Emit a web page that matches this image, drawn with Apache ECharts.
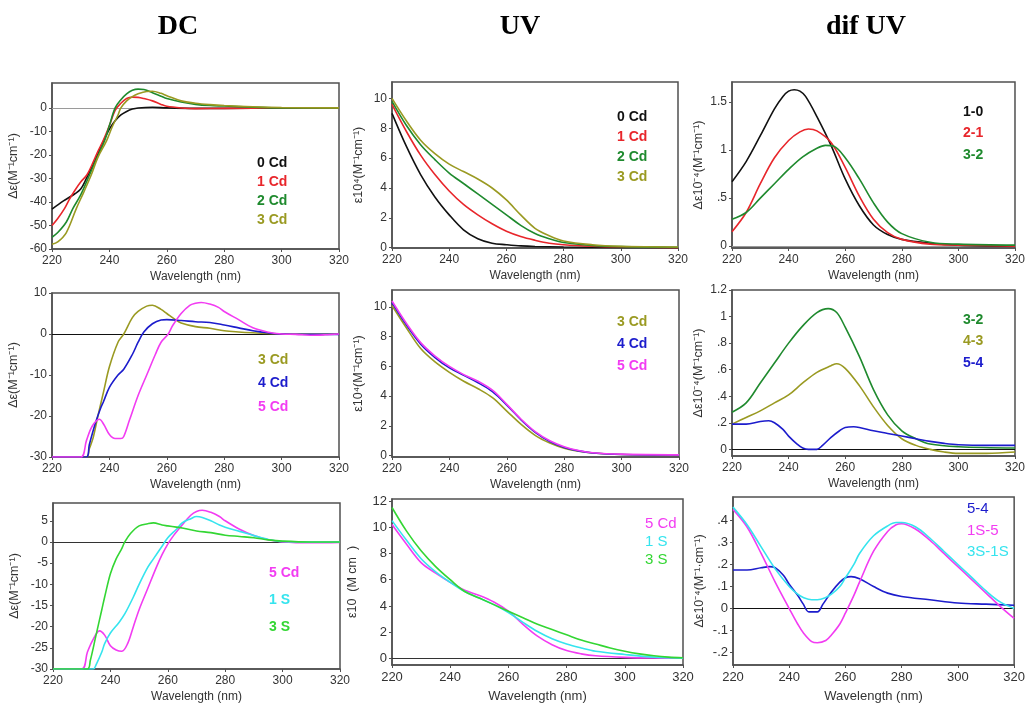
<!DOCTYPE html>
<html><head><meta charset="utf-8">
<script src="https://cdn.jsdelivr.net/npm/echarts@6/dist/echarts.min.js"></script>
<style>html,body{margin:0;padding:0;background:#fff}#c{width:1028px;height:704px}</style>
</head><body><div id="c"></div>
<script>
// ---------- tick labels ----------
const xTicks = [220, 240, 260, 280, 300, 320];
const yTicksDC1 = [-60, -50, -40, -30, -20, -10, 0];
const yTicksDC2 = [-30, -20, -10, 0, 10];
const yTicksDC3 = [-30, -25, -20, -15, -10, -5, 0, 5];
const yTicksUV12 = [0, 2, 4, 6, 8, 10];
const yTicksUV3 = [0, 2, 4, 6, 8, 10, 12];
const yTicksDif1 = [0, 0.5, 1, 1.5];
const yTicksDif2 = [0, 0.2, 0.4, 0.6, 0.8, 1, 1.2];
const yTicksDif3 = [-0.2, -0.1, 0, 0.1, 0.2, 0.3, 0.4];

// ---------- column titles ----------
const titles = ['DC', 'UV', 'dif UV'];

// ---------- row 1 : DC ----------
const dc1_0Cd = [[220,-43],[224,-39.5],[228,-36.5],[230,-34.5],[232,-30],[234,-25],[236,-19.5],[237,-16.5],[238,-14],[240,-9],[242,-5.5],[244,-3],[246,-1.5],[248,-0.5],[250,0],[255,0.3],[260,0],[270,-0.2],[280,-0.2],[300,-0.1],[320,0]];
const dc1_1Cd = [[220,-50],[222,-47],[224.4,-42.7],[226,-39],[228,-35],[230,-31.5],[232.2,-28.4],[234,-24],[236,-18.5],[237.8,-14],[240,-7.5],[242,-1],[244,2],[246,4],[248,4.6],[250,4.5],[252,4],[255,3],[258,1.5],[260,0.7],[265,0],[270,-0.3],[280,-0.2],[300,0],[320,0]];
const dc1_2Cd = [[220,-55],[222,-53],[225,-48.5],[227.3,-42.7],[230,-37],[233.1,-28.4],[235,-23],[238.3,-14],[240,-7.5],[242,0],[244,3.5],[246,6],[248,7.5],[250,8],[252,7.8],[255,6.5],[258,5],[260,4],[265,2.5],[270,1.5],[275,1],[280,0.8],[290,0.3],[300,0],[320,0]];
const dc1_3Cd = [[220,-58],[222,-57],[225,-53],[228.5,-42.7],[231,-36],[233.7,-28.4],[236,-21],[239,-14],[241,-8],[243,-3],[244,0],[246,3],[248,4.8],[250,6],[253,7],[255,7.1],[258,6.2],[260,5.2],[265,3],[270,2],[275,1.4],[280,1],[290,0.5],[300,0.2],[320,0]];

// ---------- row 1 : UV ----------
const uv1_0Cd = [[220,9],[225,6.8],[230,4.9],[235,3.4],[240,2.2],[245,1.2],[250,0.6],[255,0.3],[260,0.2],[265,0.12],[270,0.08],[280,0.05],[300,0.02],[320,0]];
const uv1_1Cd = [[220,9.6],[225,7.8],[230,6.2],[235,4.9],[240,3.8],[245,2.9],[250,2.2],[255,1.6],[260,1.1],[265,0.75],[270,0.5],[275,0.3],[280,0.2],[290,0.1],[300,0.05],[320,0]];
const uv1_2Cd = [[220,9.8],[225,8.2],[230,6.9],[235,5.9],[240,5.0],[245,4.3],[250,3.6],[255,2.9],[260,2.2],[265,1.5],[270,0.95],[275,0.6],[280,0.35],[290,0.15],[300,0.07],[320,0.03]];
const uv1_3Cd = [[220,10],[225,8.5],[230,7.2],[235,6.3],[240,5.6],[245,5.1],[250,4.6],[255,4.0],[260,3.2],[265,2.2],[270,1.3],[275,0.8],[280,0.45],[290,0.2],[300,0.1],[320,0.05]];

// ---------- row 1 : dif UV ----------
const dif1_10 = [[220,0.67],[225,0.88],[230,1.15],[235,1.43],[238,1.56],[240,1.615],[242,1.63],[244,1.615],[246,1.56],[250,1.35],[255,1.05],[260,0.7],[265,0.42],[270,0.22],[275,0.12],[280,0.07],[290,0.03],[300,0.01],[320,0]];
const dif1_21 = [[220,0.15],[225,0.35],[230,0.65],[235,0.92],[240,1.1],[244,1.19],[247,1.22],[250,1.2],[255,1.08],[260,0.82],[265,0.52],[270,0.28],[275,0.14],[280,0.07],[290,0.02],[300,0.01],[320,0]];
const dif1_32 = [[220,0.28],[225,0.35],[230,0.5],[235,0.65],[240,0.8],[245,0.93],[250,1.02],[253,1.05],[256,1.04],[260,0.92],[265,0.7],[270,0.45],[275,0.25],[280,0.13],[290,0.04],[300,0.02],[320,0.01]];

// ---------- row 2 : DC ----------
const dc2_3Cd = [[220,-30],[232,-30],[233,-28],[234.3,-25.4],[236,-20],[238,-14],[240,-8],[243,-2],[245,0],[248,4],[250,5.5],[253,6.8],[255,7],[258,6],[260,5],[263,3.5],[265,2.7],[270,1.8],[275,1.4],[280,0.8],[285,0.5],[290,0.3],[300,0],[320,0]];
const dc2_4Cd = [[220,-30],[232,-30],[233,-27],[235,-22],[237,-18],[238,-16.4],[240,-13],[243,-10],[245,-8.6],[248,-5],[250,-2],[252,0.5],[255,2.5],[258,3.4],[260,3.5],[265,3.3],[270,3.0],[275,2.8],[280,2.2],[285,1.5],[290,0.8],[295,0.3],[300,0],[320,-0.1]];
const dc2_5Cd = [[220,-30],[230,-30],[232,-26],[234,-22.5],[236.5,-20.8],[238,-22],[240,-24.5],[242,-25.5],[244,-25.5],[245,-25],[247,-21],[250,-15],[253,-10],[256,-5],[258,-2],[260.5,0],[262,2],[265,5],[268,7],[270,7.5],[272,7.7],[275,7.3],[278,6.5],[280,5.5],[285,3.5],[290,1.5],[295,0.5],[300,0],[305,-0.1],[310,-0.3],[315,-0.2],[320,0]];

// ---------- row 2 : UV ----------
const uv2_3Cd = [[220,10.1],[225,8.6],[230,7.2],[235,6.3],[240,5.6],[245,5.0],[250,4.5],[255,3.9],[260,3.0],[265,2.1],[270,1.35],[275,0.85],[280,0.5],[285,0.3],[290,0.18],[300,0.08],[320,0.05]];
const uv2_4Cd = [[220,10.3],[225,8.8],[230,7.5],[235,6.6],[240,5.9],[245,5.4],[250,4.9],[255,4.3],[260,3.4],[265,2.4],[270,1.55],[275,0.95],[280,0.55],[285,0.32],[290,0.18],[300,0.08],[320,0.05]];
const uv2_5Cd = [[220,10.4],[225,8.9],[230,7.6],[235,6.7],[240,6.0],[245,5.45],[250,5.0],[255,4.4],[260,3.45],[265,2.45],[270,1.6],[275,1.0],[280,0.6],[285,0.35],[290,0.2],[300,0.1],[320,0.05]];

// ---------- row 2 : dif UV ----------
const dif2_32 = [[220,0.28],[225,0.35],[230,0.5],[235,0.65],[240,0.8],[245,0.93],[250,1.03],[254,1.06],[257,1.03],[260,0.92],[265,0.7],[270,0.45],[275,0.26],[280,0.14],[285,0.08],[290,0.04],[300,0.02],[320,0.01]];
const dif2_43 = [[220,0.19],[225,0.24],[230,0.29],[235,0.35],[240,0.41],[245,0.5],[250,0.58],[255,0.63],[257,0.645],[260,0.61],[265,0.48],[270,0.32],[275,0.18],[280,0.08],[285,0.03],[290,0],[295,-0.02],[300,-0.03],[310,-0.03],[320,-0.02]];
const dif2_54 = [[220,0.19],[225,0.19],[230,0.21],[233,0.215],[235,0.2],[238,0.15],[240,0.1],[243,0.04],[245,0.01],[247,0],[250,0],[252,0.03],[255,0.09],[258,0.14],[260,0.165],[263,0.17],[265,0.165],[270,0.14],[275,0.12],[280,0.1],[285,0.08],[290,0.06],[295,0.045],[300,0.035],[310,0.03],[320,0.03]];

// ---------- row 3 : DC ----------
const dc3_5Cd = [[220,-30],[230,-30],[232,-26],[234,-23],[236.2,-21],[238,-22],[240,-24.5],[242,-25.5],[244,-25.8],[246,-24],[248,-20],[250,-16],[253,-11],[256,-6],[258,-3],[260,-0.5],[262,1.5],[265,4],[268,6.3],[270,7.2],[272,7.5],[275,7],[278,6],[280,5],[285,3],[290,1.5],[295,0.5],[300,0],[310,-0.2],[320,-0.1]];
const dc3_1S = [[220,-30],[234,-30],[235,-29],[237,-26],[238,-24],[240,-21.5],[243,-19],[245,-17],[248,-13],[250,-10],[253,-6],[255,-4],[258,-1],[260,1],[263,3],[265,4.5],[268,5.5],[270,6],[272,5.8],[275,5],[278,4],[280,3.5],[285,2.5],[290,1.5],[295,0.6],[300,0.1],[310,0],[320,0]];
const dc3_3S = [[220,-30],[232,-30],[233,-28],[235,-22],[237,-16],[238,-13],[240,-7.5],[242,-4],[244,-1.5],[245,0],[247,2],[250,3.8],[253,4.3],[255,4.5],[258,4],[260,3.8],[263,3.5],[265,3.3],[270,2.6],[275,2.2],[280,1.6],[285,1.3],[290,1.0],[295,0.5],[300,0.2],[310,0],[320,0]];

// ---------- row 3 : UV ----------
const uv3_5Cd = [[220,10.2],[225,8.7],[230,7.3],[235,6.5],[240,5.8],[245,5.2],[250,4.8],[255,4.3],[260,3.6],[265,2.6],[270,1.7],[275,1.05],[280,0.6],[285,0.35],[290,0.2],[300,0.08],[310,0.03],[320,0.02]];
const uv3_1S = [[220,10.5],[225,9.0],[230,7.6],[235,6.6],[240,5.8],[245,5.1],[250,4.6],[255,4.1],[260,3.5],[265,2.75],[270,2.05],[275,1.5],[280,1.1],[285,0.8],[290,0.55],[300,0.3],[310,0.1],[320,0.02]];
const uv3_3S = [[220,11.5],[225,9.7],[230,8.2],[235,7.0],[240,6.0],[245,5.1],[250,4.6],[255,4.1],[260,3.6],[265,3.1],[270,2.6],[275,2.2],[280,1.8],[285,1.4],[290,1.1],[295,0.8],[300,0.55],[305,0.35],[310,0.2],[315,0.1],[320,0.05]];

// ---------- row 3 : dif UV ----------
const dif3_54 = [[220,0.175],[225,0.175],[230,0.185],[233,0.19],[235,0.185],[238,0.15],[240,0.11],[243,0.06],[245,0.02],[247,-0.015],[250,-0.015],[252,0.02],[255,0.075],[258,0.12],[260,0.14],[262,0.145],[265,0.135],[270,0.1],[275,0.07],[280,0.055],[290,0.04],[300,0.025],[310,0.02],[320,0.015]];
const dif3_1S5 = [[220,0.45],[225,0.37],[230,0.25],[235,0.12],[240,0],[243,-0.07],[245,-0.11],[248,-0.15],[250,-0.155],[253,-0.145],[255,-0.12],[258,-0.07],[260,-0.02],[263,0.06],[265,0.12],[270,0.26],[275,0.35],[278,0.38],[280,0.385],[285,0.36],[290,0.31],[295,0.25],[300,0.19],[305,0.13],[310,0.07],[315,0.01],[320,-0.045]];
const dif3_3S1S = [[220,0.46],[225,0.38],[230,0.28],[235,0.18],[240,0.1],[243,0.065],[245,0.05],[248,0.04],[250,0.04],[253,0.05],[255,0.065],[258,0.1],[260,0.14],[263,0.2],[265,0.25],[270,0.33],[275,0.375],[278,0.39],[280,0.39],[285,0.37],[290,0.32],[295,0.26],[300,0.2],[305,0.14],[310,0.08],[315,0.03],[320,0]];

// ---------- styles / layout ----------
const COL = {black:'#111111', red:'#e8262b', green:'#1f8a2e', olive:'#9a9a22', blue:'#1c1ccc', magenta:'#f23cf2', cyan:'#35e4ee', lime:'#33d633'};
const FONT = '"Liberation Sans", Arial, sans-serif';
const nm = 'Wavelength (nm)';

const panels = [
  {g:[52,83,287,166], y:[-60,10.6], t:yTicksDC1, yn:'Δε(M⁻¹cm⁻¹)', gap:32, ynf:12.5, zero:'#9a9a9a', fmt:'int',
   s:[['0 Cd',dc1_0Cd,COL.black],['1 Cd',dc1_1Cd,COL.red],['2 Cd',dc1_2Cd,COL.green],['3 Cd',dc1_3Cd,COL.olive]], L:[257,163,19], bold:true},
  {g:[392,82,286,166], y:[-0.02,11.1], t:yTicksUV12, yn:'ε10⁴(M⁻¹cm⁻¹)', gap:27, ynf:12.5, zero:null, fmt:'int',
   s:[['0 Cd',uv1_0Cd,COL.black],['1 Cd',uv1_1Cd,COL.red],['2 Cd',uv1_2Cd,COL.green],['3 Cd',uv1_3Cd,COL.olive]], L:[617,117,20], bold:true},
  {g:[732,82,287,166], y:[-0.02,1.71], t:yTicksDif1, yn:'Δε10⁻⁴(M⁻¹cm⁻¹)', gap:27, ynf:12.5, zero:'#9a9a9a', fmt:'dec',
   s:[['1-0',dif1_10,COL.black],['2-1',dif1_21,COL.red],['3-2',dif1_32,COL.green]], L:[963,112,21.5], bold:true},
  {g:[52,293,287,164], y:[-30,10], t:yTicksDC2, yn:'Δε(M⁻¹cm⁻¹)', gap:32, ynf:12.5, zero:'#111', fmt:'int',
   s:[['3 Cd',dc2_3Cd,COL.olive],['4 Cd',dc2_4Cd,COL.blue],['5 Cd',dc2_5Cd,COL.magenta]], L:[258,360,23.5], bold:true},
  {g:[392,290,287,167], y:[-0.09,11.14], t:yTicksUV12, yn:'ε10⁴(M⁻¹cm⁻¹)', gap:27, ynf:12.5, zero:null, fmt:'int',
   s:[['3 Cd',uv2_3Cd,COL.olive],['4 Cd',uv2_4Cd,COL.blue],['5 Cd',uv2_5Cd,COL.magenta]], L:[617,322,22], bold:true},
  {g:[732,290,287,166], y:[-0.05,1.2], t:yTicksDif2, yn:'Δε10⁻⁴(M⁻¹cm⁻¹)', gap:27, ynf:12.5, zero:'#111', fmt:'dec',
   s:[['3-2',dif2_32,COL.green],['4-3',dif2_43,COL.olive],['5-4',dif2_54,COL.blue]], L:[963,320,21.5], bold:true},
  {g:[53,503,287,166], y:[-30,9.2], t:yTicksDC3, yn:'Δε(M⁻¹cm⁻¹)', gap:32, ynf:12.5, zero:'#333', fmt:'int',
   s:[['5 Cd',dc3_5Cd,COL.magenta],['1 S',dc3_1S,COL.cyan],['3 S',dc3_3S,COL.lime]], L:[269,573,27], bold:true},
  {g:[392,499,291,167], y:[-0.5,12.15], t:yTicksUV3, yn:'ε10  (M cm  )', gap:33, ynf:12.5, zero:'#333', fmt:'int',
   s:[['5 Cd',uv3_5Cd,COL.magenta],['1 S',uv3_1S,COL.cyan],['3 S',uv3_3S,COL.lime]], L:[645,524,18], bold:false},
  {g:[733,497,286,170], y:[-0.256,0.506], t:yTicksDif3, yn:'Δε10⁻⁴(M⁻¹·cm⁻¹)', gap:27, ynf:12.5, zero:'#111', fmt:'dec',
   s:[['5-4',dif3_54,COL.blue],['1S-5',dif3_1S5,COL.magenta],['3S-1S',dif3_3S1S,COL.cyan]], L:[967,509,21.5], bold:false}
];

const decFmt = v => { const s = String(Math.round(v*10)/10); return s.replace(/^(-?)0\./, '$1.'); };

const grid = [], xAxis = [], yAxis = [], series = [], graphic = [];
const titleX = [178, 520, 866];
titles.forEach((t, i) => graphic.push({type:'text', x:titleX[i], y:27,
  style:{text:t, fill:'#000', font:'bold 28px "Liberation Serif", "Times New Roman", serif', textAlign:'center', textVerticalAlign:'middle'}}));

panels.forEach((p, i) => {
  const crisp = i >= 7;
  grid.push({left:p.g[0], top:p.g[1], width:p.g[2], height:p.g[3], show:true, borderColor:'#505050', borderWidth:1.5, backgroundColor:'#fff'});
  const lab = {color:'#333', fontSize: crisp ? 13 : 12, fontFamily:FONT};
  xAxis.push({gridIndex:i, type:'value', min:220, max:320,
    axisLine:{show:true, onZero:false, lineStyle:{color:'#505050', width:1.5}},
    axisTick:{show:true, customValues:xTicks, length:3, lineStyle:{color:'#505050'}},
    axisLabel:Object.assign({customValues:xTicks, margin:6}, lab),
    splitLine:{show:false},
    name:nm, nameLocation:'middle', nameGap:crisp ? 25 : 22,
    nameTextStyle:{color:'#333', fontSize: crisp ? 13 : 12, fontFamily:FONT}});
  yAxis.push({gridIndex:i, type:'value', min:p.y[0], max:p.y[1],
    axisLine:{show:true, onZero:false, lineStyle:{color:'#505050', width:1.5}},
    axisTick:{show:true, customValues:p.t, length:3, lineStyle:{color:'#505050'}},
    axisLabel:Object.assign({customValues:p.t, margin:5, formatter: p.fmt === 'dec' ? decFmt : (v => String(v))}, lab),
    splitLine:{show:false},
    name:p.yn, nameLocation:'middle', nameGap:p.gap, nameRotate:90,
    nameTextStyle:{color:'#333', fontSize:p.ynf, fontFamily:FONT}});
  p.s.forEach((s, k) => {
    const ser = {type:'line', name:s[0], xAxisIndex:i, yAxisIndex:i, data:s[1], showSymbol:false,
      smooth:0.35, lineStyle:{color:s[2], width:1.6}, itemStyle:{color:s[2]}, z:3, clip:true};
    if (k === 0 && p.zero) {
      ser.markLine = {silent:true, symbol:'none', animation:false, label:{show:false},
        lineStyle:{color:p.zero, width:1.2, type:'solid'}, data:[{yAxis:0}], z:2};
    }
    series.push(ser);
    graphic.push({type:'text', x:p.L[0], y:p.L[1] + k*p.L[2],
      style:{text:s[0], fill:s[2], font:(p.bold ? 'bold 14px ' : '15px ') + FONT, textVerticalAlign:'middle'}});
  });
});

const chart = echarts.init(document.getElementById('c'), null, {renderer:'canvas'});
chart.setOption({animation:false, backgroundColor:'#fff', grid, xAxis, yAxis, series, graphic});
</script>
</body></html>
